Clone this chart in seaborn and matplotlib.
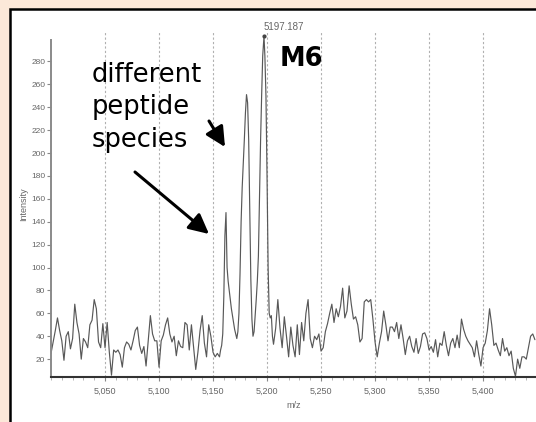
import numpy as np
import pandas as pd
import matplotlib
matplotlib.use("Agg")
import matplotlib.pyplot as plt
from matplotlib.patches import Rectangle
from matplotlib.ticker import FuncFormatter, MultipleLocator
import seaborn as sns

# ---------------- data ----------------
mz_left = list(range(5000, 5157, 2))
int_left = [25, 35, 45, 56, 45, 36, 19, 40, 44, 29,
            38, 68, 52, 42, 20, 38, 35, 30, 50, 54,
            72, 64, 35, 30, 51, 30, 52, 26, 6, 28,
            26, 28, 24, 13, 30, 35, 33, 28, 36, 45,
            48, 32, 25, 31, 14, 36, 58, 42, 36, 36,
            13, 36, 41, 50, 56, 42, 35, 40, 23, 36,
            31, 30, 52, 50, 28, 50, 30, 11, 26, 45,
            58, 34, 22, 50, 40, 26, 22, 25, 22]

mz_peaks = [5157, 5158, 5159, 5160, 5161, 5162, 5163, 5164, 5165, 5166,
            5167, 5168, 5169, 5170, 5171, 5172, 5173, 5174, 5175, 5176,
            5177, 5178, 5179, 5180, 5181, 5182, 5183, 5184, 5185, 5186,
            5187, 5188, 5189, 5190, 5191, 5192, 5193, 5194, 5195, 5196,
            5197.187, 5198, 5199, 5200, 5201, 5202, 5203, 5204, 5205]
int_peaks = [28, 32, 42, 75, 128, 148, 100, 88, 80, 72,
             64, 58, 52, 46, 42, 38, 44, 60, 95, 140,
             170, 190, 212, 235, 251, 244, 212, 150, 90, 55,
             40, 44, 58, 72, 88, 110, 160, 210, 250, 285,
             302, 285, 250, 180, 100, 60, 56, 58, 40]

mz_right = list(range(5206, 5449, 2))
int_right = [33, 47, 72, 47, 30, 57, 40, 22, 48, 32,
             22, 50, 24, 52, 36, 60, 72, 38, 30, 40,
             37, 42, 27,
             30, 44, 51, 60, 68, 52, 64, 57, 66, 82,
             56, 62, 84, 68, 55, 57, 50, 35, 38, 70,
             72, 70, 72, 55, 35, 22, 34, 44, 62, 50,
             36, 48, 48, 44, 52, 38, 50, 38, 24, 36,
             40, 31, 26, 38, 25, 31, 42, 43, 38, 28,
             31, 26, 37, 22, 34, 32, 44, 32, 23, 34,
             38, 30, 41, 30, 55, 46, 40, 36, 33, 30,
             22, 36, 24, 14, 30, 34, 45, 64, 50, 32,
             34, 28, 23, 38, 27, 30, 23, 27, 12, 5,
             20, 12, 22, 22, 20, 30, 40, 42, 37]

peak_mz = 5197.187
peak_int = 302
peak_label = "5197.187"
x_ticks = [5050, 5100, 5150, 5200, 5250, 5300, 5350, 5400]
y_ticks = [20, 40, 60, 80, 100, 120, 140, 160, 180, 200, 220, 240, 260, 280]
x_label = "m/z"
y_label = "Intensity"
note_text = "different\npeptide\nspecies"
species_text = "M6"

df = pd.DataFrame({"mz": mz_left + mz_peaks + mz_right,
                   "intensity": int_left + int_peaks + int_right})

# ---------------- styling ----------------
sns.set_style("white")
plt.rcParams["font.family"] = ["Liberation Sans", "DejaVu Sans"]

W, H = 536, 422
fig = plt.figure(figsize=(W / 100, H / 100), dpi=100)
fig.patch.set_facecolor("#FCE8D9")
panel = Rectangle((10 / W, -0.05), 1.2, 1 - 8.5 / H + 0.05,
                  transform=fig.transFigure, facecolor="white",
                  edgecolor="black", lw=1.8, zorder=-10)
fig.patches.append(panel)

ax = fig.add_axes([51 / W, 45 / H, 485 / W, 345 / H])
ax.set_facecolor("none")
ax.set_zorder(1)

sns.lineplot(data=df, x="mz", y="intensity", ax=ax, color="#585858",
             lw=0.85, estimator=None, sort=False)

ax.set_xlim(5000, 5449)
ax.set_ylim(4.4, 305.7)

for s in ["top", "right"]:
    ax.spines[s].set_visible(False)
ax.spines["left"].set_bounds(4.4, 299)
ax.spines["left"].set_color("#8a8a8a")
ax.spines["left"].set_linewidth(1.4)
ax.spines["bottom"].set_color("#333333")
ax.spines["bottom"].set_linewidth(1.5)

ax.set_xticks(x_ticks)
ax.set_yticks(y_ticks)
ax.xaxis.set_major_formatter(FuncFormatter(lambda v, p: f"{int(v):,}"))
ax.xaxis.set_minor_locator(MultipleLocator(10))
ax.tick_params(axis="y", length=3, width=0.8, color="#888888",
               labelsize=6, labelcolor="#666666", pad=1, left=True)
ax.tick_params(axis="x", which="major", length=3, width=0.8, color="#888888",
               labelsize=6.5, labelcolor="#666666", pad=4, bottom=True)
ax.tick_params(axis="x", which="minor", length=2, width=0.6, color="#aaaaaa",
               bottom=True)

ax.xaxis.grid(True, which="major", linestyle=(0, (2, 2)), color="#b0b0b0", lw=0.8)
ax.yaxis.grid(False)

ax.set_xlabel(x_label, fontsize=6.5, color="#666666", labelpad=3.5)
ax.set_ylabel(y_label, fontsize=6.5, color="#666666", labelpad=2)

# peak marker and label
ax.plot([peak_mz], [peak_int], marker="o", ms=2, color="#444444", clip_on=False)
ax.annotate(peak_label, xy=(peak_mz, peak_int), xytext=(0, 3),
            textcoords="offset points", ha="left", va="bottom",
            fontsize=7, color="#666666", annotation_clip=False)

# annotations
fig.text(92 / W, 1 - 62 / H, note_text, ha="left", va="top",
         fontsize=18.5, family="DejaVu Sans", color="black", linespacing=1.32,
         zorder=5)
fig.text(280 / W, 1 - 66 / H, species_text, ha="left", va="baseline",
         fontsize=18.5, family="DejaVu Sans", weight="bold", color="black",
         zorder=5)

arrow_kw = dict(arrowstyle="-|>,head_length=0.8,head_width=0.4",
                color="black", lw=2.2, mutation_scale=15,
                shrinkA=0, shrinkB=0)
ax.annotate("", xy=(225, H - 147), xycoords="figure pixels",
            xytext=(209, H - 121), textcoords="figure pixels",
            arrowprops=arrow_kw)
ax.annotate("", xy=(209, H - 234), xycoords="figure pixels",
            xytext=(135, H - 172), textcoords="figure pixels",
            arrowprops=arrow_kw)

fig.savefig("out.png", dpi=100)
